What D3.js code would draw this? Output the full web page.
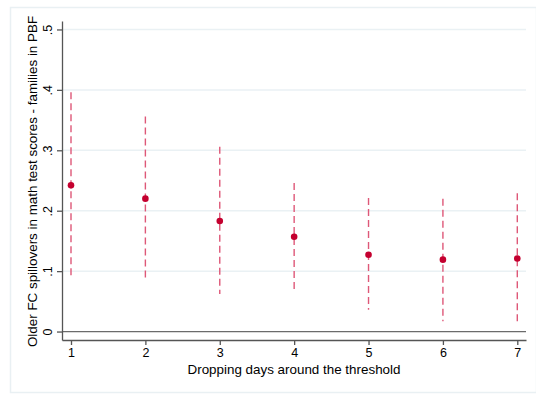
<!DOCTYPE html>
<html>
<head>
<meta charset="utf-8">
<script src="https://cdn.jsdelivr.net/npm/d3@7"></script>
<style>
  body { margin: 0; background: #fff; }
  text { font-family: "Liberation Sans", Arial, sans-serif; fill: #000; }
</style>
</head>
<body>
<div id="main"></div>
<script>
// dropped days around the threshold
const days = [1, 2, 3, 4, 5, 6, 7];
// point estimates and 95% CI bounds
const estimate = [0.242, 0.220, 0.183, 0.157, 0.127, 0.119, 0.121];
const ciLow = [0.088, 0.084, 0.062, 0.068, 0.036, 0.017, 0.012];
const ciHigh = [0.396, 0.356, 0.306, 0.246, 0.221, 0.220, 0.229];
const yTicks = [0, 0.1, 0.2, 0.3, 0.4, 0.5];
const yTickLabels = ["0", ".1", ".2", ".3", ".4", ".5"];

const W = 536, H = 394;
const plotLeft = 62, plotRight = 526, plotTop = 21, plotBottom = 340;

const svg = d3.select("#main").append("svg").attr("width", W).attr("height", H);

// outer frame
svg.append("rect")
  .attr("x", 10.5).attr("y", 7.5)
  .attr("width", W - 10).attr("height", 385)
  .attr("fill", "#fff").attr("stroke", "#e9f0f3").attr("stroke-width", 1.5);

const x = d3.scaleLinear().domain([0.879, 7.117]).range([plotLeft, plotRight]);
const y = d3.scaleLinear().domain([-0.014, 0.514]).range([plotBottom, plotTop]);

// gridlines
svg.append("g")
  .selectAll("line")
  .data(yTicks.filter((d) => d > 0))
  .join("line")
  .attr("x1", plotLeft).attr("x2", plotRight)
  .attr("y1", (d) => y(d)).attr("y2", (d) => y(d))
  .attr("stroke", "#eaf1f4").attr("stroke-width", 1.5);

// zero line
svg.append("line")
  .attr("x1", plotLeft).attr("x2", plotRight)
  .attr("y1", y(0)).attr("y2", y(0))
  .attr("stroke", "#6b6b6b").attr("stroke-width", 1.3);

// y axis
const yAxis = svg.append("g")
  .attr("transform", `translate(${plotLeft},0)`)
  .call(d3.axisLeft(y).tickValues(yTicks).tickSize(5).tickSizeOuter(0)
    .tickFormat((d, i) => yTickLabels[i]));
yAxis.select(".domain").attr("stroke", "#555").attr("stroke-width", 1.3);
yAxis.selectAll(".tick line").attr("stroke", "#555").attr("stroke-width", 1.3);
yAxis.selectAll(".tick text")
  .attr("font-size", 12.5)
  .attr("text-anchor", "middle")
  .attr("x", 0).attr("dy", 0)
  .attr("transform", "translate(-10,0) rotate(-90)");

// x axis
const xAxis = svg.append("g")
  .attr("transform", `translate(0,${plotBottom})`)
  .call(d3.axisBottom(x).tickValues(days).tickSize(5).tickSizeOuter(0)
    .tickFormat(d3.format("d")));
xAxis.select(".domain").attr("stroke", "#555").attr("stroke-width", 1.3);
xAxis.selectAll(".tick line").attr("stroke", "#555").attr("stroke-width", 1.3);
xAxis.selectAll(".tick text").attr("font-size", 12.5).attr("y", 8);

// axis titles
svg.append("text")
  .attr("x", (plotLeft + plotRight) / 2).attr("y", 374)
  .attr("text-anchor", "middle").attr("font-size", 13.4)
  .text("Dropping days around the threshold");

svg.append("text")
  .attr("transform", `translate(37,${(plotTop + plotBottom) / 2 + 1}) rotate(-90)`)
  .attr("text-anchor", "middle").attr("font-size", 13.4)
  .text("Older FC spillovers in math test scores - families in PBF");

// confidence intervals
svg.append("g")
  .selectAll("line")
  .data(days)
  .join("line")
  .attr("x1", (d) => x(d)).attr("x2", (d) => x(d))
  .attr("y1", (d, i) => y(ciHigh[i])).attr("y2", (d, i) => y(ciLow[i]))
  .attr("stroke", "#de5878").attr("stroke-width", 1.4)
  .attr("stroke-dasharray", "7,4");

// point estimates
svg.append("g")
  .selectAll("circle")
  .data(days)
  .join("circle")
  .attr("cx", (d) => x(d)).attr("cy", (d, i) => y(estimate[i]))
  .attr("r", 3.3)
  .attr("fill", "#c4002f");
</script>
</body>
</html>
